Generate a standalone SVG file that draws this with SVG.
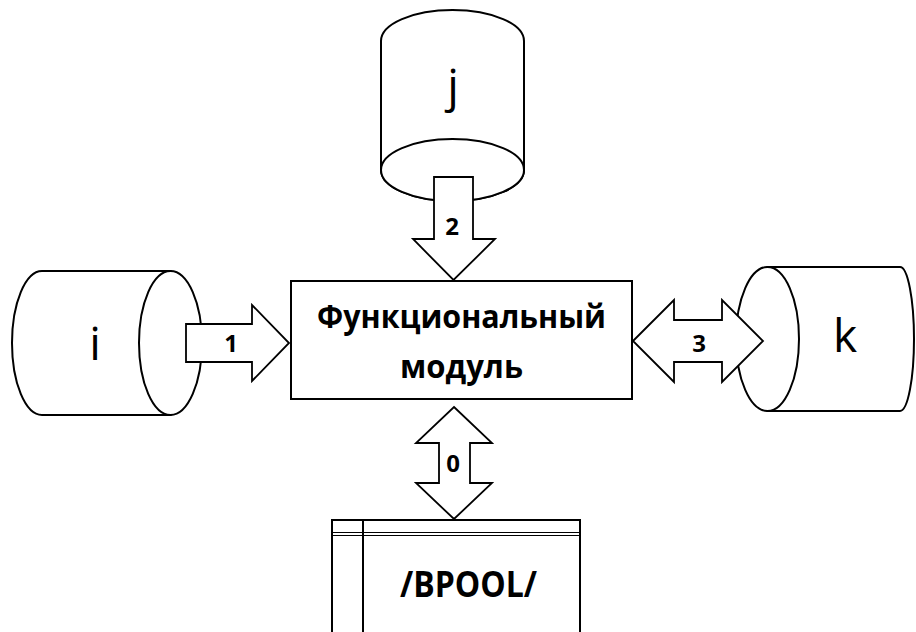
<svg xmlns="http://www.w3.org/2000/svg" width="916" height="632" viewBox="0 0 916 632">
  <style>
    .shape { fill: #fff; stroke: #000; stroke-width: 2; }
    .arrow { fill: #fff; stroke: #000; stroke-width: 1.8; stroke-linejoin: miter; }
    .line { fill: none; stroke: #000; stroke-width: 2; }
    .big { font-family: "Open Sans", "Noto Sans", "Liberation Sans", sans-serif; font-size: 46px; fill: #000; text-anchor: middle; }
    .bold { font-family: "Open Sans", "Noto Sans", "Liberation Sans", sans-serif; font-weight: bold; fill: #000; text-anchor: middle; }
    .num { font-size: 24px; }
    .title { font-size: 32px; }
  </style>
  <rect width="916" height="632" fill="#fff"/>

  <!-- storage j (top) -->
  <g id="store-j">
    <path class="shape" d="M381,41 A71.5,31 0 0 1 524,41 V170 A71.5,31 0 0 1 381,170 Z"/>
    <ellipse class="shape" cx="452.5" cy="170" rx="71.5" ry="31"/>
    <text class="big" x="453" y="102">j</text>
  </g>

  <!-- storage i (left) -->
  <g id="store-i">
    <path class="shape" d="M170.5,271 H42 A30,72 0 0 0 42,415 H170.5 Z"/>
    <ellipse class="shape" cx="170.5" cy="343" rx="31.5" ry="72"/>
    <text class="big" x="95" y="360">i</text>
  </g>

  <!-- storage k (right) -->
  <g id="store-k">
    <path class="shape" d="M767.5,267 H900 A14,72 0 0 1 900,411 H767.5 Z"/>
    <ellipse class="shape" cx="767.5" cy="339" rx="31.5" ry="72"/>
    <text class="big" x="845" y="352">k</text>
  </g>

  <!-- functional module -->
  <g id="module">
    <rect class="shape" x="291" y="281" width="341" height="118"/>
    <text class="bold title" x="461.5" y="328" textLength="289" lengthAdjust="spacingAndGlyphs">Функциональный</text>
    <text class="bold title" x="461.5" y="378" textLength="123" lengthAdjust="spacingAndGlyphs">модуль</text>
  </g>

  <!-- common block /BPOOL/ -->
  <g id="bpool">
    <rect class="shape" x="332" y="520" width="248" height="130"/>
    <line class="line" x1="363" y1="520" x2="363" y2="640"/>
    <line stroke="#000" stroke-width="1" x1="332" y1="532.5" x2="580" y2="532.5"/>
    <line stroke="#000" stroke-width="1" x1="332" y1="535.5" x2="580" y2="535.5"/>
    <text class="bold" font-size="35" x="468.5" y="597" textLength="137" lengthAdjust="spacingAndGlyphs">/BPOOL/</text>
  </g>

  <!-- data flows -->
  <g id="connectors">
    <g id="flow-1">
      <polygon class="arrow" points="186,324 252,324 252,305 289,343 252,381 252,362 186,362"/>
      <text class="bold num" x="231" y="352">1</text>
    </g>
    <g id="flow-2">
      <polygon class="arrow" points="434,177 473,177 473,239 495,239 453.5,280 413,239 434,239"/>
      <text class="bold num" x="452" y="235">2</text>
    </g>
    <g id="flow-3">
      <polygon class="arrow" points="633,341 674,300 674,320 722,320 722,300 763,341 722,382 722,362 674,362 674,382"/>
      <text class="bold num" x="699" y="352">3</text>
    </g>
    <g id="flow-0">
      <polygon class="arrow" points="454,407 492,443 470,443 470,483 492,483 454,519 416,483 439,483 439,443 416,443"/>
      <text class="bold num" x="453" y="472">0</text>
    </g>
  </g>
</svg>
